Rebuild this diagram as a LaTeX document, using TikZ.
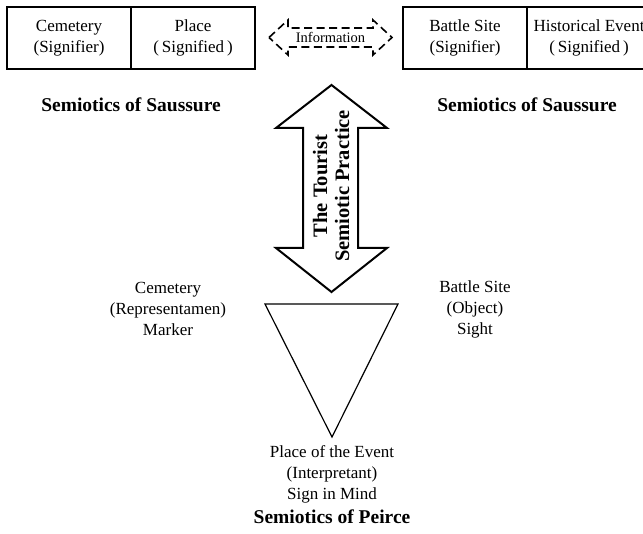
\documentclass[tikz,border=0pt]{standalone}
\usepackage{fontspec}
\setmainfont{Liberation Serif}
\begin{document}
\begin{tikzpicture}[x=1pt,y=-1pt,
  txt/.style={font=\fontsize{17}{21}\selectfont, align=center, inner sep=0pt},
  ttl/.style={font=\fontsize{19.5}{23}\selectfont\bfseries, align=center, inner sep=0pt},
  cell/.style={draw, line width=1.2pt, minimum width=124pt, minimum height=62pt, inner sep=0pt, font=\fontsize{17}{21}\selectfont, align=center},
  bigarrow/.style={draw, line width=2pt, line join=miter},
  infoarrow/.style={draw, line width=1.6pt, dash pattern=on 8pt off 4.5pt},
  tri/.style={draw, line width=1.2pt, line join=miter}]
\useasboundingbox (0,0) rectangle (643,534);
% Saussure boxes
\node[cell] (c1) at (69,38) {Cemetery\\(Signifier)};
\node[cell] (c2) at (193,38) {Place\\(\,Signified\,)};
\node[cell] (c3) at (465,38) {Battle Site\\(Signifier)};
\node[cell] (c4) at (589,38) {Historical Event\\(\,Signified\,)};
\node[ttl] (s1) at (131,105) {Semiotics of Saussure};
\node[ttl] (s2) at (527,105) {Semiotics of Saussure};
% information arrow
\path[infoarrow] (269,37.5) -- (288,20) -- (288,28) -- (373,28) -- (373,20) -- (392,37.5)
  -- (373,55) -- (373,47) -- (288,47) -- (288,55) -- cycle;
\node[font=\fontsize{14.5}{16}\selectfont, inner sep=0pt] (info) at (330.5,37.5) {Information};
% big double arrow
\path[bigarrow] (331.5,85) -- (387,128) -- (358,128) -- (358,248) -- (387,248) -- (331.5,292)
  -- (276,248) -- (303,248) -- (303,128) -- (276,128) -- cycle;
\node[font=\fontsize{20.5}{22}\selectfont\bfseries, align=center, rotate=90, inner sep=0pt] (tsp) at (331,186) {The Tourist\\Semiotic Practice};
% Peirce triangle
\path[tri] (265,304) -- (398,304) -- (332,437) -- cycle;
\node[txt] (rep) at (168,309) {Cemetery\\(Representamen)\\Marker};
\node[txt] (obj) at (475,309) {Battle Site\\(Object)\\Sight};
\node[txt] (int) at (332,474) {Place of the Event\\(Interpretant)\\Sign in Mind};
\node[ttl] (pe) at (332,517) {Semiotics of Peirce};
\end{tikzpicture}
\end{document}
